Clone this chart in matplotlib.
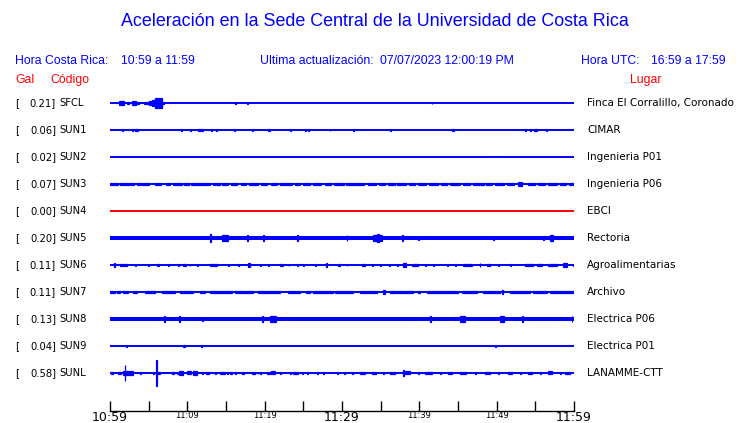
import matplotlib
matplotlib.use('Agg')
import matplotlib.pyplot as plt

# Station data: code, place, peak acceleration (Gal)
codes = ['SFCL', 'SUN1', 'SUN2', 'SUN3', 'SUN4', 'SUN5', 'SUN6', 'SUN7', 'SUN8', 'SUN9', 'SUNL']
places = ['Finca El Corralillo, Coronado', 'CIMAR', 'Ingenieria P01', 'Ingenieria P06', 'EBCI',
          'Rectoria', 'Agroalimentarias', 'Archivo', 'Electrica P06', 'Electrica P01', 'LANAMME-CTT']
peak_gal = [0.21, 0.06, 0.02, 0.07, 0.00, 0.20, 0.11, 0.11, 0.13, 0.04, 0.58]

# background noise level of each trace (Gal)
noise_gal = [0.0, 0.0, 0.0, 0.0, 0.0, 0.09, 0.0, 0.0, 0.10, 0.0, 0.0]

# bursts: (start min, end min, half amplitude Gal), minutes after 10:59
bursts_sfcl = [(1.2, 1.8, 0.11), (2.2, 2.5, 0.06), (2.8, 3.4, 0.11), (3.5, 3.8, 0.04), (4.4, 5.0, 0.06),
               (5.0, 5.3, 0.11), (5.4, 5.8, 0.14), (5.8, 6.7, 0.21), (6.7, 7.0, 0.05), (16.2, 16.2, 0.03),
               (17.7, 17.7, 0.05), (41.6, 41.6, 0.03)]
bursts_sun1 = [(1.55, 1.55, 0.05), (2.84, 2.84, 0.05), (3.2, 3.6, 0.06), (9.2, 9.2, 0.05), (10.35, 10.35, 0.05),
               (10.9, 10.9, 0.02), (11.4, 11.8, 0.05), (11.9, 11.9, 0.05), (13.1, 13.1, 0.05), (13.7, 13.7, 0.05),
               (16.0, 16.0, 0.05), (18.4, 18.4, 0.05), (20.4, 20.7, 0.06), (23.3, 23.3, 0.05), (25.2, 25.2, 0.04),
               (25.6, 25.6, 0.04), (28.4, 28.4, 0.04), (31.4, 31.4, 0.05), (36.2, 36.2, 0.05), (44.2, 44.5, 0.05),
               (53.7, 53.7, 0.05), (54.3, 54.3, 0.04), (54.8, 55.2, 0.05), (56.4, 56.4, 0.05)]
bursts_sun2 = [(49.8, 49.8, 0.02)]
bursts_sun3 = [(0.0, 1.0, 0.04), (1.3, 2.4, 0.04), (2.6, 3.1, 0.05), (3.5, 4.0, 0.04), (4.2, 5.0, 0.05),
               (5.8, 6.6, 0.05), (7.3, 7.8, 0.04), (8.2, 9.3, 0.04), (9.6, 10.2, 0.05), (10.5, 12.9, 0.05),
               (13.3, 14.2, 0.05), (14.5, 15.2, 0.04), (15.6, 16.4, 0.05), (17.0, 17.6, 0.04), (18.0, 19.2, 0.05),
               (19.5, 20.3, 0.04), (20.8, 21.6, 0.05), (22.0, 23.5, 0.05), (23.9, 24.6, 0.05), (25.0, 25.9, 0.04),
               (26.3, 27.3, 0.05), (27.8, 28.6, 0.04), (29.0, 30.2, 0.05), (30.5, 31.8, 0.05), (32.0, 32.9, 0.05),
               (33.3, 34.4, 0.05), (34.8, 35.6, 0.05), (36.0, 36.8, 0.04), (37.1, 38.3, 0.05), (38.7, 39.5, 0.05),
               (39.8, 40.9, 0.04), (41.3, 42.4, 0.05), (42.8, 43.6, 0.04), (44.0, 45.2, 0.05), (45.6, 46.5, 0.05),
               (46.9, 48.3, 0.05), (48.6, 49.4, 0.04), (49.8, 50.9, 0.05), (51.3, 52.2, 0.04), (52.8, 53.3, 0.07),
               (54.1, 55.0, 0.05), (55.4, 56.3, 0.04), (56.7, 57.8, 0.05), (58.2, 59.0, 0.04), (59.3, 60.0, 0.05)]
bursts_sun4 = []
bursts_sun5 = [(12.9, 12.9, 0.20), (14.5, 15.3, 0.13), (17.7, 17.7, 0.12), (19.8, 19.8, 0.12), (24.2, 24.2, 0.13),
               (30.6, 30.6, 0.13), (34.0, 34.5, 0.15), (34.5, 34.8, 0.20), (34.8, 35.2, 0.15), (37.8, 37.8, 0.12),
               (39.8, 39.8, 0.11), (49.5, 49.5, 0.11), (56.0, 56.0, 0.11), (56.9, 57.3, 0.12)]
bursts_sun6 = [(0.5, 0.5, 0.09), (1.3, 2.2, 0.05), (3.2, 3.2, 0.03), (4.9, 4.9, 0.03), (6.1, 6.3, 0.05),
               (7.5, 7.5, 0.03), (8.8, 8.8, 0.03), (9.4, 9.8, 0.04), (10.3, 10.3, 0.03), (11.3, 11.3, 0.03),
               (12.9, 13.8, 0.04), (15.3, 15.3, 0.03), (16.6, 16.6, 0.03), (17.8, 18.1, 0.07), (19.4, 19.4, 0.05),
               (20.4, 20.4, 0.03), (22.0, 22.4, 0.05), (23.1, 23.1, 0.03), (24.2, 24.2, 0.03), (25.0, 25.0, 0.03),
               (26.5, 26.5, 0.03), (27.9, 27.9, 0.08), (29.5, 29.7, 0.03), (30.6, 30.6, 0.03), (32.6, 33.0, 0.05),
               (33.9, 33.9, 0.03), (34.9, 34.9, 0.03), (36.1, 36.1, 0.03), (37.1, 37.1, 0.03), (37.9, 38.3, 0.08),
               (39.1, 39.8, 0.05), (40.7, 40.7, 0.03), (41.8, 41.8, 0.03), (43.6, 43.6, 0.05), (44.6, 44.6, 0.03),
               (45.6, 46.8, 0.03), (47.8, 47.8, 0.07), (48.7, 49.1, 0.04), (50.2, 50.2, 0.03), (51.7, 51.7, 0.03),
               (53.7, 54.7, 0.05), (55.2, 55.9, 0.06), (56.6, 57.8, 0.04), (58.6, 59.1, 0.07), (59.9, 59.9, 0.04)]
bursts_sun7 = [(0.0, 0.65, 0.03), (0.9, 1.3, 0.04), (1.7, 2.3, 0.04), (3.0, 3.5, 0.04), (4.5, 5.8, 0.04),
               (6.7, 8.4, 0.04), (9.1, 10.7, 0.04), (11.6, 12.3, 0.04), (12.9, 15.8, 0.05), (16.2, 18.5, 0.05),
               (19.1, 22.0, 0.04), (23.0, 24.6, 0.04), (25.3, 25.9, 0.04), (26.3, 28.8, 0.04), (29.1, 31.4, 0.04),
               (32.3, 34.5, 0.04), (35.3, 35.6, 0.11), (36.2, 39.2, 0.04), (39.8, 40.1, 0.04), (41.0, 45.0, 0.05),
               (45.5, 47.5, 0.04), (48.2, 50.4, 0.04), (50.7, 50.7, 0.10), (51.7, 54.3, 0.04), (54.7, 56.5, 0.04),
               (56.9, 59.9, 0.04)]
bursts_sun8 = [(7.0, 7.0, 0.12), (8.9, 8.9, 0.12), (11.9, 11.9, 0.11), (19.7, 19.7, 0.13), (20.7, 21.5, 0.13),
               (41.4, 41.4, 0.12), (45.3, 45.9, 0.12), (50.4, 51.0, 0.12), (53.3, 53.3, 0.12), (59.7, 59.7, 0.13)]
bursts_sun9 = [(2.07, 2.07, 0.04), (9.4, 9.7, 0.03), (11.8, 11.8, 0.03), (49.8, 49.8, 0.03)]
bursts_sunl = [(0.1, 0.4, 0.03), (1.0, 1.4, 0.05), (1.7, 3.0, 0.09), (1.9, 2.0, 0.38), (3.9, 3.9, 0.04),
               (5.6, 5.6, 0.05), (5.95, 6.05, 0.58), (6.2, 6.5, 0.05), (8.0, 8.3, 0.03), (8.7, 8.7, 0.04),
               (8.9, 9.4, 0.10), (10.0, 10.5, 0.07), (10.7, 11.3, 0.10), (11.9, 11.9, 0.05), (12.4, 12.8, 0.06),
               (13.6, 13.6, 0.03), (14.2, 14.9, 0.06), (15.1, 15.1, 0.05), (15.5, 15.8, 0.05), (16.2, 16.2, 0.03),
               (17.1, 17.3, 0.05), (18.4, 18.8, 0.06), (19.1, 19.1, 0.04), (19.4, 19.4, 0.04), (20.3, 20.7, 0.05),
               (20.8, 21.3, 0.07), (22.0, 22.0, 0.04), (23.3, 23.3, 0.04), (23.7, 24.3, 0.06), (24.8, 24.8, 0.04),
               (25.5, 25.6, 0.04), (26.8, 26.9, 0.04), (27.5, 27.7, 0.04), (29.4, 29.4, 0.04), (30.3, 30.3, 0.04),
               (31.3, 31.3, 0.04), (32.3, 33.0, 0.05), (33.9, 34.4, 0.06), (35.3, 35.3, 0.04), (36.2, 36.9, 0.06),
               (37.9, 37.9, 0.12), (38.1, 38.8, 0.07), (39.8, 39.8, 0.04), (40.7, 41.6, 0.06), (42.7, 42.7, 0.04),
               (43.7, 44.2, 0.05), (45.3, 46.0, 0.06), (47.2, 47.2, 0.04), (48.5, 49.1, 0.05), (50.2, 50.2, 0.04),
               (51.5, 52.0, 0.06), (53.0, 53.0, 0.04), (54.0, 54.6, 0.06), (55.6, 55.6, 0.04), (56.6, 57.2, 0.07),
               (58.2, 58.2, 0.04), (58.9, 59.5, 0.05)]
all_bursts = [bursts_sfcl, bursts_sun1, bursts_sun2, bursts_sun3, bursts_sun4, bursts_sun5,
              bursts_sun6, bursts_sun7, bursts_sun8, bursts_sun9, bursts_sunl]

tick_min = list(range(0, 61, 5))
tick_lab = ['10:59', '', '11:09', '', '11:19', '', '11:29', '', '11:39', '', '11:49', '', '11:59']
big_labels = ['10:59', '11:29', '11:59']

BLUE = '#0000ff'
W, H = 740, 423
gal_to_row = 22.0 / 27.0   # vertical scale: Gal -> trace spacing


def fx(px):
    return px / W


def fy(py):
    return 1 - py / H


fig = plt.figure(figsize=(7.4, 4.23), dpi=100)
ax = fig.add_axes([fx(110), fy(411), fx(574) - fx(110), fy(76) - fy(411)])

for i, code in enumerate(codes):
    c = 'red' if code == 'SUN4' else BLUE
    ax.hlines(i, 0, 60, color=c, lw=1.4)
    if noise_gal[i] > 0:
        n = noise_gal[i] * gal_to_row
        ax.fill_between([0, 60], i - n, i + n, color=c, lw=0)
    for t0, t1, a in all_bursts[i]:
        h = a * gal_to_row
        ax.bar(t0, 2 * h, bottom=i - h, width=max(t1 - t0, 0.1), align='edge',
               color=c, edgecolor=c, lw=0.9)

    # labels left / right of trace
    tr = ax.get_yaxis_transform()
    ax.text((15 - 110) / 464, i, '[', transform=tr, ha='left', va='center', fontsize=7.2)
    ax.text((56 - 110) / 464, i, '{0:.2f}]'.format(peak_gal[i]), transform=tr, ha='right',
            va='center', fontsize=7.2)
    ax.text((59 - 110) / 464, i, code, transform=tr, ha='left', va='center', fontsize=7.2)
    ax.text((587 - 110) / 464, i, places[i], transform=tr, ha='left', va='center', fontsize=7.5)

ax.set_xlim(0, 60)
ax.set_ylim(11.41, -1)
for s in ['top', 'left', 'right']:
    ax.spines[s].set_visible(False)
ax.spines['bottom'].set_linewidth(1)
ax.set_yticks([])
ax.set_xticks(tick_min)
ax.set_xticklabels(tick_lab)
ax.tick_params(axis='x', direction='in', length=7, width=1, pad=0)
for lab in ax.get_xticklabels():
    lab.set_fontsize(9 if lab.get_text() in big_labels else 6)

# header
hf = 'Liberation Sans'
fig.text(0.5 + 5 / W, fy(22), 'Aceleración en la Sede Central de la Universidad de Costa Rica',
         ha='center', va='center', color=BLUE, fontsize=12.9, family=hf)
kw = dict(va='center', color=BLUE, fontsize=8.8, family=hf)
fig.text(fx(15), fy(61), 'Hora Costa Rica:', **kw)
fig.text(fx(121), fy(61), '10:59 a 11:59', **kw)
fig.text(fx(260), fy(61), 'Ultima actualización:', **kw)
fig.text(fx(380), fy(61), '07/07/2023 12:00:19 PM', **kw)
fig.text(fx(581), fy(61), 'Hora UTC:', **kw)
fig.text(fx(651), fy(61), '16:59 a 17:59', **kw)
kw['color'] = 'red'
fig.text(fx(15), fy(80), 'Gal', **kw)
fig.text(fx(50), fy(80), 'Código', **kw)
fig.text(fx(630), fy(80), 'Lugar', **kw)

plt.savefig('out.png', dpi=100)
